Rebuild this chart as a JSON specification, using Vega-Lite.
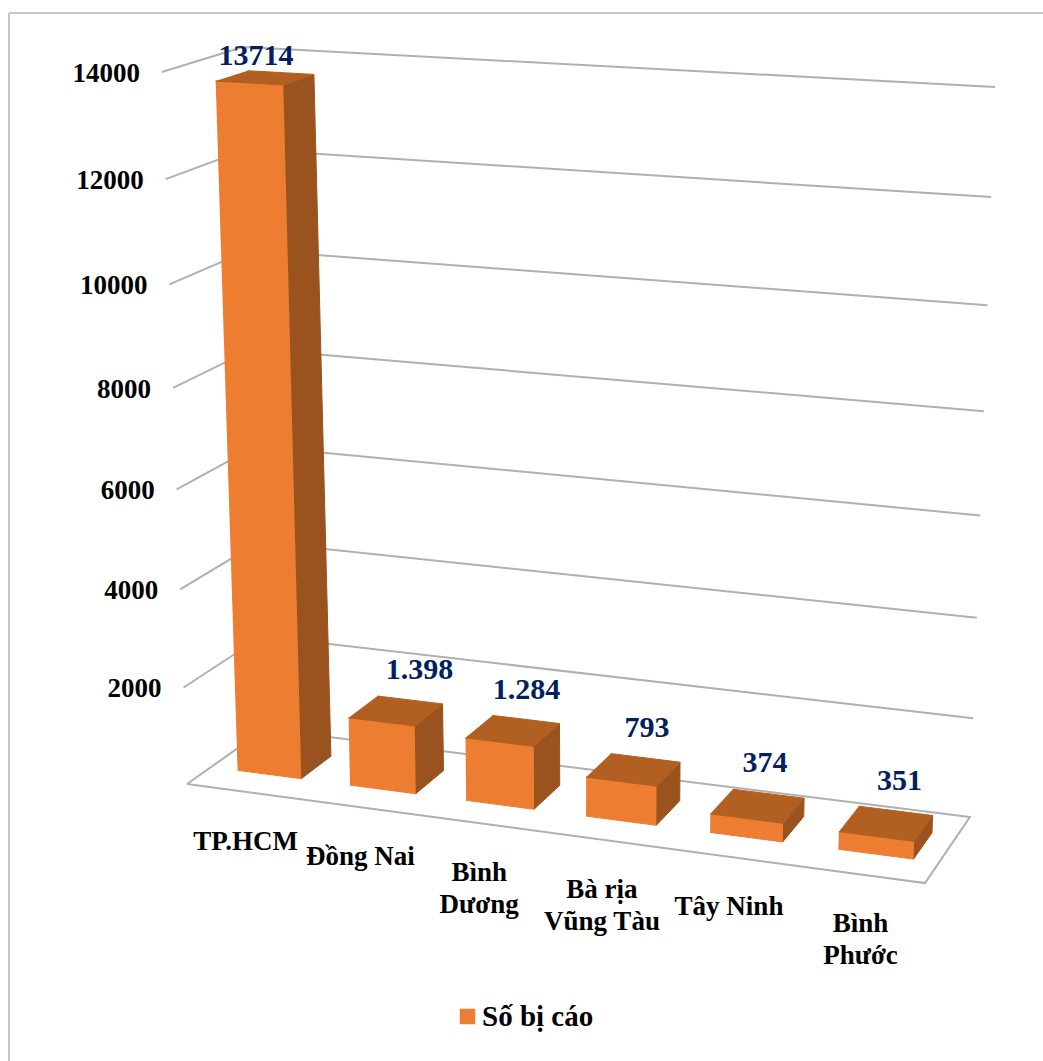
{
  "$schema": "https://vega.github.io/schema/vega-lite/v6.json",
  "width": 1034,
  "height": 1048,
  "padding": {"left": 9, "top": 13, "right": 0, "bottom": 0},
  "autosize": {"type": "none"},
  "background": "white",
  "config": {"view": {"stroke": null}, "text": {"font": "Liberation Serif", "fontWeight": "bold"}},
  "datasets": {
    "reports": [
      {"province": "TP.HCM", "rank": 0, "reports": 13714, "shown": "13714", "name": "TP.HCM"},
      {"province": "Đồng Nai", "rank": 1, "reports": 1398, "shown": "1.398", "name": "Đồng Nai"},
      {"province": "Bình Dương", "rank": 2, "reports": 1284, "shown": "1.284", "name": "Bình\nDương"},
      {"province": "Bà rịa Vũng Tàu", "rank": 3, "reports": 793, "shown": "793", "name": "Bà rịa\nVũng Tàu"},
      {"province": "Tây Ninh", "rank": 4, "reports": 374, "shown": "374", "name": "Tây Ninh"},
      {"province": "Bình Phước", "rank": 5, "reports": 351, "shown": "351", "name": "Bình\nPhước"}
    ],
    "scaleTicks": [
      {"tick": 2000}, {"tick": 4000}, {"tick": 6000}, {"tick": 8000},
      {"tick": 10000}, {"tick": 12000}, {"tick": 14000}
    ],
    "floorEdge": [{"tick": 0}],
    "frameRow": [{"frame": 1}]
  },
  "layer": [
    {
      "data": {"name": "frameRow"},
      "mark": {"type": "rule", "stroke": "#b5b5b5", "strokeWidth": 1.5},
      "encoding": {"x": {"value": 0}}
    },
    {
      "data": {"name": "frameRow"},
      "mark": {"type": "rule", "stroke": "#b5b5b5", "strokeWidth": 1.5},
      "encoding": {"y": {"value": 0}}
    },
    {
      "encoding": {
        "x": {"field": "px", "type": "quantitative", "axis": null, "scale": {"domain": [9, 1043], "nice": false, "zero": false}},
        "y": {"field": "py", "type": "quantitative", "axis": null, "scale": {"domain": [1061, 13], "nice": false, "zero": false}}
      },
      "layer": [
        {
          "data": {"name": "floorEdge"},
          "transform": [
            {"calculate": "[0,1,1,0,0]", "as": "cu"},
            {"calculate": "[0,0,1,1,0]", "as": "cd"},
            {"calculate": "[0,1,2,3,4]", "as": "vert"},
            {"flatten": ["cu", "cd", "vert"]},
            {"calculate": "1-0.0961*datum.cu+0.053*datum.cd", "as": "w"},
            {"calculate": "(187+649.1*datum.cu+92*datum.cd)/datum.w", "as": "px"},
            {"calculate": "(784+14.2*datum.cu-16.4*datum.cd)/datum.w", "as": "py"}
          ],
          "mark": {"type": "line", "stroke": "#b0b0b0", "strokeWidth": 2},
          "encoding": {"order": {"field": "vert", "type": "ordinal"}}
        },
        {
          "data": {"name": "scaleTicks"},
          "transform": [
            {"calculate": "[0,0,1]", "as": "cu"},
            {"calculate": "[0,1,1]", "as": "cd"},
            {"calculate": "[0,1,2]", "as": "vert"},
            {"flatten": ["cu", "cd", "vert"]},
            {"calculate": "datum.tick/14000", "as": "v"},
            {"calculate": "1-0.0961*datum.cu+0.053*datum.cd-0.0589*datum.v", "as": "w"},
            {"calculate": "(187+649.1*datum.cu+92*datum.cd+datum.v*(-34.6-3*datum.cd+3*datum.cu))/datum.w", "as": "px"},
            {"calculate": "(784+14.2*datum.cu-16.4*datum.cd+datum.v*(-716.2+17.2*datum.cu-4.7*datum.cd))/datum.w", "as": "py"}
          ],
          "mark": {"type": "line", "stroke": "#b0b0b0", "strokeWidth": 2},
          "encoding": {
            "detail": {"field": "tick", "type": "nominal"},
            "order": {"field": "vert", "type": "ordinal"}
          }
        },
        {
          "data": {"name": "reports"},
          "transform": [
            {"calculate": "['Số bị cáo','Số bị cáo','Số bị cáo','Số bị cáo','cạnh','cạnh','cạnh','cạnh','nóc','nóc','nóc','nóc']", "as": "face"},
            {"calculate": "[0,1,1,0, 1,1,1,1, 0,1,1,0]", "as": "cu"},
            {"calculate": "[0,0,0,0, 0,1,1,0, 0,0,1,1]", "as": "cd"},
            {"calculate": "[0,0,1,1, 0,0,1,1, 1,1,1,1]", "as": "cv"},
            {"calculate": "[0,1,2,3, 0,1,2,3, 0,1,2,3]", "as": "vert"},
            {"flatten": ["face", "cu", "cd", "cv", "vert"]},
            {"calculate": "(datum.rank+0.5)/6+0.004+(datum.cu-0.5)*0.095", "as": "u"},
            {"calculate": "0.3+0.4*datum.cd", "as": "d"},
            {"calculate": "datum.cv*datum.reports/14000", "as": "v"},
            {"calculate": "1-0.0961*datum.u+0.053*datum.d-0.0589*datum.v", "as": "w"},
            {"calculate": "(187+649.1*datum.u+92*datum.d+datum.v*(-34.6-3*datum.d+3*datum.u))/datum.w", "as": "px"},
            {"calculate": "(784+14.2*datum.u-16.4*datum.d+datum.v*(-716.2+17.2*datum.u-4.7*datum.d))/datum.w", "as": "py"}
          ],
          "mark": {"type": "line", "strokeWidth": 1, "interpolate": "linear"},
          "encoding": {
            "detail": {"field": "province", "type": "nominal"},
            "order": {"field": "vert", "type": "ordinal"},
            "stroke": {
              "field": "face", "type": "nominal", "legend": null,
              "scale": {"domain": ["Số bị cáo", "cạnh", "nóc"], "range": ["#ED7D31", "#9A531E", "#B25F22"]}
            },
            "fill": {
              "field": "face", "type": "nominal",
              "scale": {"domain": ["Số bị cáo", "cạnh", "nóc"], "range": ["#ED7D31", "#9A531E", "#B25F22"]},
              "legend": {
                "title": null, "orient": "none", "legendX": 444, "legendY": 989, "values": ["Số bị cáo"],
                "symbolType": "square", "symbolSize": 240, "symbolStrokeWidth": 0,
                "labelFont": "Liberation Serif", "labelFontWeight": "bold", "labelFontSize": 29, "labelColor": "black", "labelLimit": 300, "labelOffset": 0
              }
            }
          }
        },
        {
          "data": {"name": "scaleTicks"},
          "transform": [
            {"calculate": "datum.tick/14000", "as": "v"},
            {"calculate": "1-0.0589*datum.v", "as": "w"},
            {"calculate": "(187-34.6*datum.v)/datum.w", "as": "px"},
            {"calculate": "(784-716.2*datum.v)/datum.w", "as": "py"}
          ],
          "mark": {"type": "text", "align": "right", "baseline": "middle", "dx": -22, "dy": 2, "fontSize": 27, "color": "black"},
          "encoding": {"text": {"field": "tick", "type": "nominal"}}
        },
        {
          "data": {"name": "reports"},
          "transform": [
            {"calculate": "(datum.rank+0.48)/6+0.007", "as": "u"},
            {"calculate": "1-0.0961*datum.u", "as": "w"},
            {"calculate": "(187+649.1*datum.u)/datum.w", "as": "px"},
            {"calculate": "(784+14.2*datum.u)/datum.w", "as": "py"}
          ],
          "mark": {"type": "text", "align": "center", "baseline": "top", "dy": 37, "fontSize": 27, "lineHeight": 32, "lineBreak": "\n", "color": "black"},
          "encoding": {"text": {"field": "name", "type": "nominal"}}
        },
        {
          "data": {"name": "reports"},
          "transform": [
            {"calculate": "(datum.rank+0.5)/6+0.004+0.0475", "as": "u"},
            {"calculate": "datum.reports/14000", "as": "v"},
            {"calculate": "1-0.0961*datum.u+0.053*0.7-0.0589*datum.v", "as": "w"},
            {"calculate": "(187+649.1*datum.u+92*0.7+datum.v*(-34.6-2.1+3*datum.u))/datum.w", "as": "px"},
            {"calculate": "(784+14.2*datum.u-16.4*0.7+datum.v*(-716.2+17.2*datum.u-4.7*0.7))/datum.w", "as": "py"}
          ],
          "encoding": {"text": {"field": "shown", "type": "nominal"}},
          "layer": [
            {
              "transform": [{"filter": "datum.rank == 0"}],
              "mark": {"type": "text", "align": "center", "baseline": "middle", "dx": -58, "dy": -18, "fontSize": 30, "color": "#002060"}
            },
            {
              "transform": [{"filter": "datum.rank == 1"}],
              "mark": {"type": "text", "align": "center", "baseline": "middle", "dx": -23, "dy": -34, "fontSize": 30, "color": "#002060"}
            },
            {
              "transform": [{"filter": "datum.rank == 2 || datum.rank == 3 || datum.rank == 5"}],
              "mark": {"type": "text", "align": "center", "baseline": "middle", "dx": -33, "dy": -34, "fontSize": 30, "color": "#002060"}
            },
            {
              "transform": [{"filter": "datum.rank == 4"}],
              "mark": {"type": "text", "align": "center", "baseline": "middle", "dx": -39, "dy": -35, "fontSize": 30, "color": "#002060"}
            }
          ]
        }
      ]
    }
  ]
}
